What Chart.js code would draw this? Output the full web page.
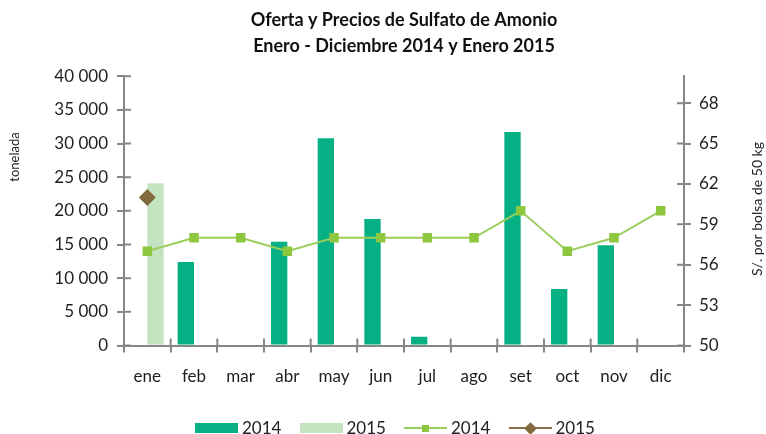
<!DOCTYPE html>
<html>
<head>
<meta charset="utf-8">
<script src="https://cdn.jsdelivr.net/npm/chart.js@4.4.1/dist/chart.umd.min.js"></script>
<style>
    body { margin: 0; background: #fff; }
    #wrap { position: relative; width: 766px; height: 434px; }
    #SulfatoLegend ul { position: absolute; left: 195px; top: 418px; margin: 0; padding: 0; list-style: none; display: flex; }
    #SulfatoLegend li { width: 104.5px; display: flex; align-items: center; height: 20px; }
    #SulfatoLegend span.box { position: relative; display: inline-block; width: 43px; height: 16px; margin-right: 4px; }
    #SulfatoLegend p { margin: 0; font: 17px Lato, sans-serif; color: #222; position: relative; top: -1px; }
</style>
</head>
<body>
<div id="wrap">
    <canvas id="SulfatoChart" width="766" height="434"></canvas>
    <div id="SulfatoLegend"></div>
</div>
<script>
// meses y valores
const meses = ['ene', 'feb', 'mar', 'abr', 'may', 'jun', 'jul', 'ago', 'set', 'oct', 'nov', 'dic'];
const oferta2014 = [150, 12400, 0, 15400, 30800, 18800, 1300, 0, 31700, 8400, 14900, 0];
const oferta2015 = [24100, null, null, null, null, null, null, null, null, null, null, null];
const precio2014 = [57, 58, 58, 57, 58, 58, 58, 58, 60, 57, 58, 60];
const precio2015 = [61, null, null, null, null, null, null, null, null, null, null, null];
const toneladaTicks = [0, 5000, 10000, 15000, 20000, 25000, 30000, 35000, 40000];
const precioTicks = [50, 53, 56, 59, 62, 65, 68];

const axisGray = '#878787';
const textColor = '#1e1e1e';

// miles separados con espacio
function fmtMiles(v){
    return String(v).replace(/\B(?=(\d{3})+(?!\d))/g, ' ');
}

// rayitas de los ejes hacia adentro del area
const innerTicks = {
    id: 'innerTicks',
    beforeDatasetsDraw(chart){
        const {ctx, chartArea, scales} = chart;
        const len = 7;
        ctx.save();
        ctx.strokeStyle = axisGray;
        ctx.lineWidth = 2;
        ctx.beginPath();
        scales.yL.ticks.forEach(t => {
            const y = scales.yL.getPixelForValue(t.value);
            ctx.moveTo(chartArea.left, y);
            ctx.lineTo(chartArea.left + len, y);
        });
        scales.yR.ticks.forEach(t => {
            const y = scales.yR.getPixelForValue(t.value);
            ctx.moveTo(chartArea.right, y);
            ctx.lineTo(chartArea.right - len, y);
        });
        for (let i = 0; i <= meses.length; i++) {
            let x;
            if (i === 0) x = chartArea.left;
            else if (i === meses.length) x = chartArea.right;
            else x = (scales.x.getPixelForValue(i - 1) + scales.x.getPixelForValue(i)) / 2;
            ctx.moveTo(x, chartArea.bottom);
            ctx.lineTo(x, chartArea.bottom - len);
        }
        ctx.stroke();
        ctx.restore();
    }
};

// titulos de ejes
const axisTitles = {
    id: 'axisTitles',
    afterDraw(chart){
        const ctx = chart.ctx;
        ctx.save();
        ctx.fillStyle = textColor;
        ctx.textAlign = 'center';
        ctx.textBaseline = 'middle';
        ctx.font = '13px Lato, sans-serif';
        ctx.translate(15, 157);
        ctx.rotate(-Math.PI / 2);
        ctx.fillText('tonelada', 0, 0);
        ctx.restore();

        ctx.save();
        ctx.fillStyle = textColor;
        ctx.textAlign = 'center';
        ctx.textBaseline = 'middle';
        ctx.font = '14px Lato, sans-serif';
        ctx.translate(757, 209);
        ctx.rotate(-Math.PI / 2);
        ctx.fillText('S/. por bolsa de 50 kg', 0, 0);
        ctx.restore();
    }
};

// leyenda propia debajo del grafico
function generateLegend(locationID, chart){
    const location = document.getElementById(locationID);
    const ul = document.createElement('UL');

    chart.data.datasets.forEach((dataset) => {
        const li = document.createElement('LI');
        const spanBox = document.createElement('SPAN');
        spanBox.className = 'box';

        if (dataset.type === 'bar') {
            const fill = document.createElement('SPAN');
            fill.style.cssText = `position:absolute;left:0;top:3px;width:43px;height:10px;background:${dataset.backgroundColor};`;
            spanBox.appendChild(fill);
        } else {
            const line = document.createElement('SPAN');
            line.style.cssText = `position:absolute;left:0;top:7px;width:43px;height:2px;background:${dataset.borderColor};`;
            const mark = document.createElement('SPAN');
            if (dataset.pointStyle === 'rectRot') {
                mark.style.cssText = `position:absolute;left:17px;top:3.5px;width:9px;height:9px;background:${dataset.pointBackgroundColor};transform:rotate(45deg);`;
            } else {
                mark.style.cssText = `position:absolute;left:18px;top:4.5px;width:7px;height:7px;background:${dataset.pointBackgroundColor};`;
            }
            spanBox.appendChild(line);
            spanBox.appendChild(mark);
        }

        const p = document.createElement('P');
        p.appendChild(document.createTextNode(dataset.label));

        ul.appendChild(li);
        li.appendChild(spanBox);
        li.appendChild(p);
    });

    location.appendChild(ul);
    return ul;
}

const ctx = document.getElementById('SulfatoChart');

const sulfatoChart = new Chart(ctx, {
    data: {
        labels: meses,
        datasets: [
            {
                type: 'bar',
                label: '2014',
                data: oferta2014,
                yAxisID: 'yL',
                backgroundColor: '#04B084',
                order: 2
            },
            {
                type: 'bar',
                label: '2015',
                data: oferta2015,
                yAxisID: 'yL',
                backgroundColor: '#C4E3C0',
                order: 2
            },
            {
                type: 'line',
                label: '2014',
                data: precio2014,
                yAxisID: 'yR',
                borderColor: '#9ACE5C',
                borderWidth: 2,
                pointStyle: 'rect',
                pointRadius: 6.7,
                pointBorderWidth: 0,
                pointBackgroundColor: '#8DC63F',
                order: 1
            },
            {
                type: 'line',
                label: '2015',
                data: precio2015,
                yAxisID: 'yR',
                borderColor: '#8A7148',
                borderWidth: 2,
                pointStyle: 'rectRot',
                pointRadius: 8.5,
                pointBorderWidth: 0,
                pointBackgroundColor: '#826A3E',
                order: 0
            }
        ]
    },
    options: {
        responsive: false,
        animation: false,
        events: [],
        datasets: {
            bar: {
                categoryPercentage: 0.7,
                barPercentage: 1
            }
        },
        layout: {
            padding: { top: 0, bottom: 38.5, left: 0, right: 0 }
        },
        scales: {
            x: {
                offset: true,
                grid: {
                    offset: true,
                    drawOnChartArea: false,
                    tickLength: 7,
                    color: axisGray,
                    lineWidth: 2
                },
                border: { color: axisGray, width: 2 },
                ticks: {
                    color: textColor,
                    font: { family: 'Lato', size: 17 },
                    padding: 14,
                    maxRotation: 0
                },
                afterFit(scale){ scale.height = 50; }
            },
            yL: {
                position: 'left',
                min: 0,
                max: 40000,
                afterBuildTicks(scale){ scale.ticks = toneladaTicks.map(v => ({value: v})); },
                grid: {
                    drawOnChartArea: false,
                    tickLength: 7,
                    color: axisGray,
                    lineWidth: 2
                },
                border: { color: axisGray, width: 2 },
                ticks: {
                    color: textColor,
                    font: { family: 'Lato', size: 17 },
                    padding: 9,
                    callback: (v) => fmtMiles(v)
                },
                afterFit(scale){ scale.width = 124; }
            },
            yR: {
                position: 'right',
                min: 50,
                max: 70,
                afterBuildTicks(scale){ scale.ticks = precioTicks.map(v => ({value: v})); },
                grid: {
                    drawOnChartArea: false,
                    tickLength: 7,
                    color: axisGray,
                    lineWidth: 2
                },
                border: { color: axisGray, width: 2 },
                ticks: {
                    color: textColor,
                    font: { family: 'Lato', size: 17 },
                    padding: 8
                },
                afterFit(scale){ scale.width = 82; }
            }
        },
        plugins: {
            legend: { display: false },
            tooltip: { enabled: false },
            title: {
                display: true,
                fullSize: false,
                text: ['Oferta y Precios de Sulfato de Amonio', 'Enero - Diciembre 2014 y Enero 2015'],
                color: '#111',
                font: { family: 'Lato', size: 18, weight: 'bold', lineHeight: 1.45 },
                padding: { top: 7, bottom: 17 }
            }
        }
    },
    plugins: [innerTicks, axisTitles]
});

const customLegend = generateLegend('SulfatoLegend', sulfatoChart);
</script>
</body>
</html>
